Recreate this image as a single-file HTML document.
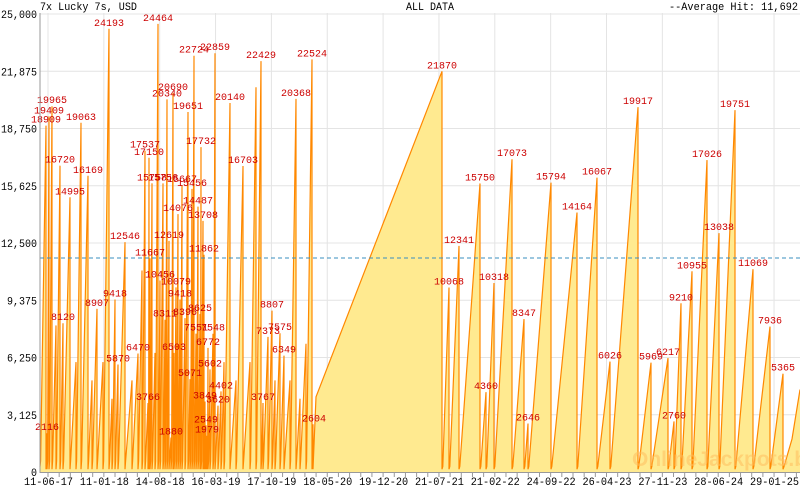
<!DOCTYPE html>
<html><head><meta charset="utf-8"><style>
html,body{margin:0;padding:0;background:#fff;}
svg{display:block;font-family:"Liberation Mono",monospace;}
</style></head><body>
<svg id="c" width="800" height="490" xmlns="http://www.w3.org/2000/svg">
<rect x="0" y="0" width="800" height="490" fill="#fff"/>
<g id="grid" stroke="#e4e4e4" stroke-width="1"></g>
<path id="fill" fill="#ffea90" stroke="none"/>
<path id="line" fill="none" stroke="#ff8800" stroke-width="1.2"/>
<line x1="40" y1="258" x2="800" y2="258" stroke="#3a8fbf" stroke-width="1" stroke-dasharray="4,3"/>
<text x="632" y="466" font-family="Liberation Sans,sans-serif" font-weight="bold" font-size="21" fill="#ffc060" opacity="0.55">OnlineJackpots.biz</text>
<g id="labels" fill="#cc0000" font-size="10"></g>
<line x1="40" y1="13" x2="40" y2="473" stroke="#999"/>
<line x1="40" y1="472.5" x2="800" y2="472.5" stroke="#999"/>
<g id="ticks" stroke="#999"></g>
<g id="ax" fill="#000" font-size="11"></g>
<text x="40" y="10" font-size="11" fill="#000" textLength="97" lengthAdjust="spacingAndGlyphs">7x Lucky 7s, USD</text>
<text x="406" y="10" font-size="11" fill="#000" textLength="48" lengthAdjust="spacingAndGlyphs">ALL DATA</text>
<text x="669" y="10" font-size="11" fill="#000" textLength="129" lengthAdjust="spacingAndGlyphs">--Average Hit: 11,692</text>
</svg>
<script>
var NS="http://www.w3.org/2000/svg";
function el(t,a,p,txt){var e=document.createElementNS(NS,t);for(var k in a)e.setAttribute(k,a[k]);if(txt!=null)e.textContent=txt;document.getElementById(p).appendChild(e);return e;}
function Y(v){return 472-v*458/25000;}
var yl=["0","3,125","6,250","9,375","12,500","15,625","18,750","21,875","25,000"];
for(var i=0;i<9;i++){var y=Y(i*3125);if(i>0)el("line",{x1:40,y1:y,x2:800,y2:y},"grid");
var a={x:37,y:y+4,"text-anchor":"end"};var n=yl[i].length;a.textLength=n*6;a.lengthAdjust="spacingAndGlyphs";
el("text",a,"ax",yl[i]);}
var xl=["11-06-17","11-01-18","14-08-18","16-03-19","17-10-19","18-05-20","19-12-20","21-07-21","21-02-22","24-09-22","26-04-23","27-11-23","28-06-24","29-01-25"];
for(var i=0;i<14;i++){var x=48+55.85*i;el("line",{x1:x,y1:13,x2:x,y2:472},"grid");
el("text",{x:Math.max(x-10,1),y:485,"text-anchor":"start",textLength:49,lengthAdjust:"spacingAndGlyphs",transform:"translate(-14,0)"},"ax",xl[i]);}
for(var x=48;x<800;x+=11.17){el("line",{x1:x,y1:472,x2:x,y2:477},"ticks");}
var P=[[46,18909],[47,2116],[49,19409],[52,19965],[56,8000],[60,16720],[63,8120],[70,14995],[76,6000],[81,19063],[88,16169],[92,5000],[97,8907],[103,6000],[109,24193],[112,4000],[115,9418],[118,5870],[125,12546],[132,5000],[138,6470],[142,11000],[145,17537],[148,3766],[149,17150],[150,11667],[152,15758],[155,6500],[158,24464],[160,10456],[163,15756],[165,8311],[167,20340],[169,12619],[171,1880],[173,20690],[174,6503],[176,10079],[178,14076],[180,9418],[182,15667],[185,8396],[188,19651],[190,5071],[192,15456],[194,22724],[196,7551],[198,14487],[200,8625],[201,17732],[203,13708],[204,11862],[205,3849],[206,2549],[207,1979],[208,6772],[210,5602],[213,7548],[215,22859],[218,3620],[221,4402],[224,6000],[230,20140],[236,5000],[243,16703],[250,6000],[256,21000],[261,22429],[263,3767],[268,7373],[272,8807],[275,5000],[280,7575],[284,6349],[290,5000],[296,20368],[300,4000],[306,7000],[312,22524]];
var R=[[442,21870],[449,10068],[459,12341],[480,15750],[486,4360],[494,10318],[512,17073],[524,8347],[528,2646],[551,15794],[577,14164],[597,16067],[610,6026],[638,19917],[651,5969],[668,6217],[674,2760],[681,9210],[692,10955],[707,17026],[719,13038],[735,19751],[753,11069],[770,7936],[783,5365]];
var d="M40,"+Y(300);var prev=40;var unl={"56":1,"76":1,"92":1,"103":1,"112":1,"132":1,"142":1,"155":1,"224":1,"236":1,"250":1,"256":1,"275":1,"290":1,"300":1,"306":1};
function tooth(sx,sv,px,pv,lab){d+=" L"+sx+","+Y(sv)+" L"+px+","+Y(pv)+" L"+px+","+Y(150);
if(lab)el("text",{x:px,y:Y(pv)-3,"text-anchor":"middle"},"labels",String(pv));}
P.forEach(function(p){tooth(prev+0.6,600,p[0],p[1],!unl[p[0]]);prev=p[0];});
tooth(313,2604,313,2604,false);el("text",{x:314,y:Y(2604)-3,"text-anchor":"middle"},"labels","2604");
d+=" L316,"+Y(4100);prev=316;
R.forEach(function(p,i){var sx=i==0?316:prev+0.8;if(i==0){d+=" L"+p[0]+","+Y(p[1])+" L"+p[0]+","+Y(150);el("text",{x:p[0],y:Y(p[1])-3,"text-anchor":"middle"},"labels",String(p[1]));}
else{var w=p[0]-sx;d+=" L"+sx+","+Y(300)+" L"+(sx+w*0.5)+","+Y(300+(p[1]-300)*0.5)+" L"+p[0]+","+Y(p[1])+" L"+p[0]+","+Y(150);el("text",{x:p[0],y:Y(p[1])-3,"text-anchor":"middle"},"labels",String(p[1]));}
prev=p[0];});
d+=" L784,"+Y(300)+" L792,"+Y(1800)+" L800,"+Y(4500);
document.getElementById("line").setAttribute("d",d);
document.getElementById("fill").setAttribute("d",d+" L800,472 L40,472 Z");
</script>
</body></html>
